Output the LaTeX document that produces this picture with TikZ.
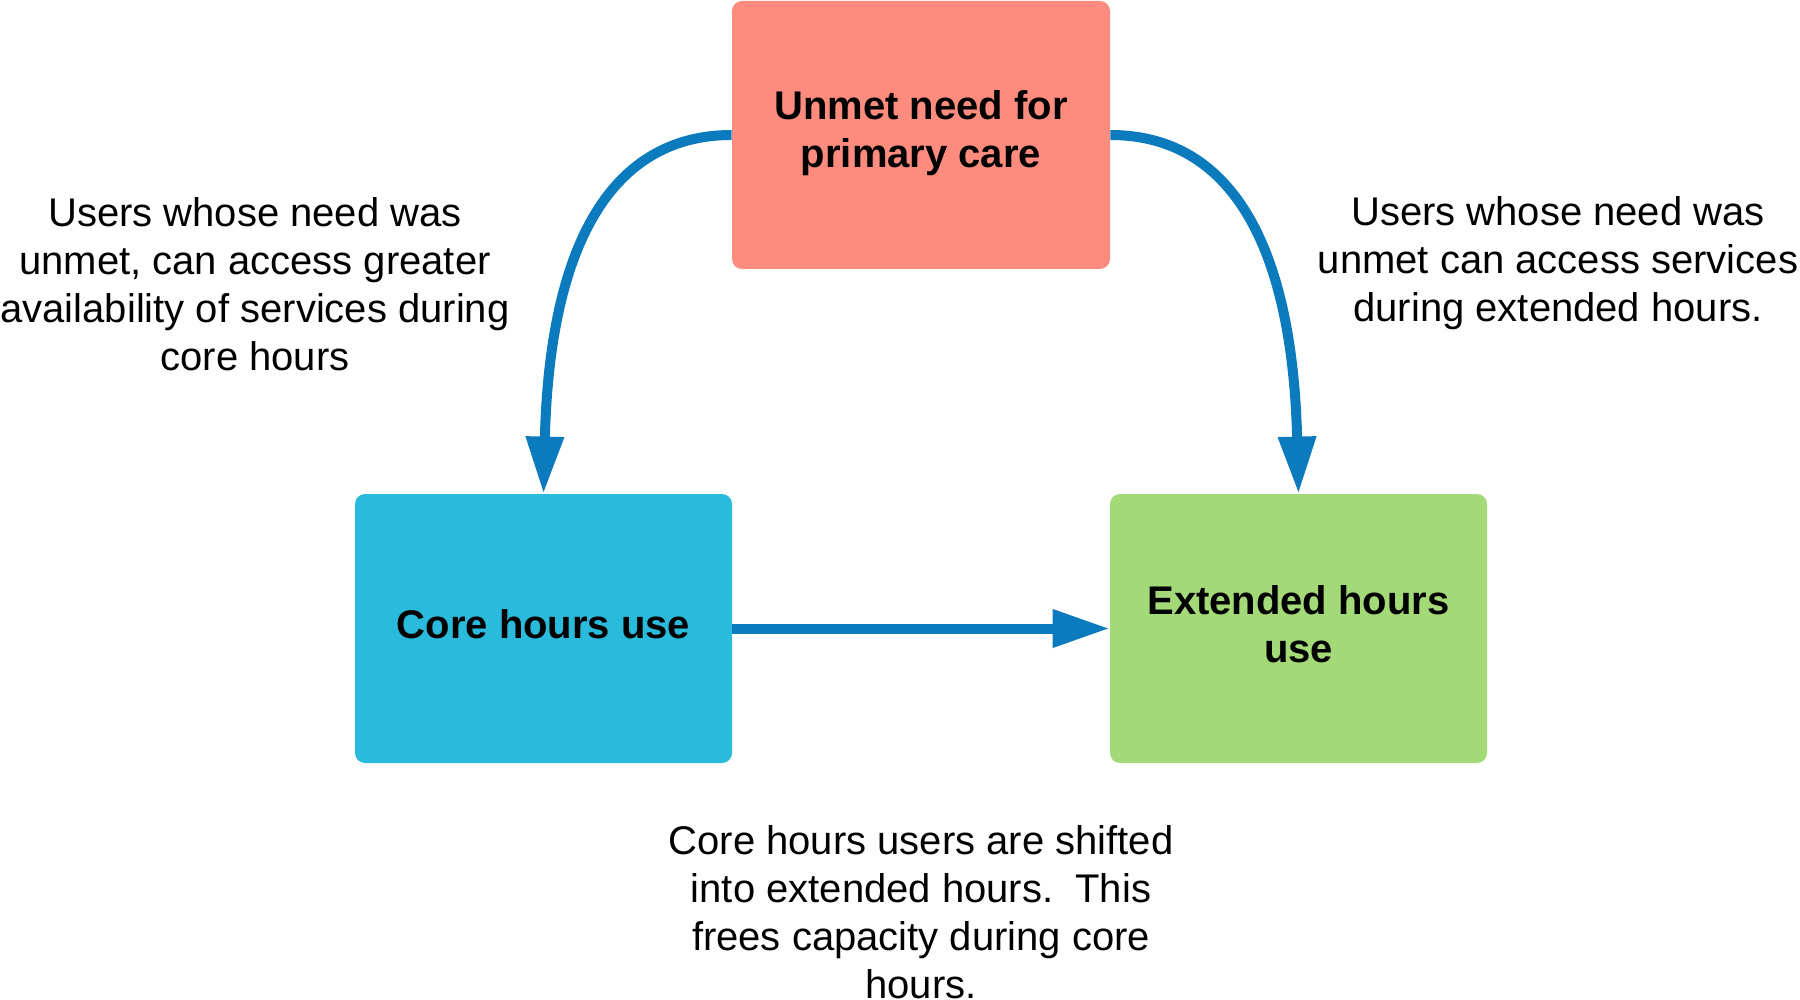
\documentclass[tikz,border=0pt]{standalone}
\usepackage{fontspec}
\setmainfont{Liberation Sans}
\usetikzlibrary{arrows.meta}
\definecolor{salmon}{HTML}{FE8C7E}
\definecolor{cyanbox}{HTML}{2ABBDC}
\definecolor{greenbox}{HTML}{A3D977}
\definecolor{arrblue}{HTML}{0B7BBD}
\tikzset{
  box/.style={rounded corners=5pt, inner sep=0pt, align=center,
    font=\fontsize{20}{24}\selectfont\bfseries},
  lbl/.style={inner sep=0pt, align=center, font=\fontsize{20}{24}\selectfont},
  arr/.style={draw=arrblue, line width=5pt, -{Triangle[length=28.5pt,width=18pt]}}
}
\begin{document}
\begin{tikzpicture}[x=0.5pt,y=-0.5pt]
\useasboundingbox (0,0) rectangle (1800,1000);
\node[box, fill=salmon, minimum width=189pt, minimum height=134pt] (top) at (921,135) {};
\node[box] (toptxt) at (921,133) {Unmet need for\\primary care};
\node[box, fill=cyanbox, minimum width=188.5pt, minimum height=134.5pt] (core) at (543.5,628.5) {};
\node[box] (coretxt) at (543.5,624) {Core hours use};
\node[box, fill=greenbox, minimum width=188.5pt, minimum height=134.5pt] (ext) at (1298.5,628.5) {};
\node[box] (exttxt) at (1298.5,624) {Extended hours\\use};
\node[lbl] (l1) at (255,284) {Users whose need was\\unmet, can access greater\\availability of services during\\core hours};
\node[lbl] (l2) at (1558,263) {Users whose need was\\unmet can access services\\during extended hours.};
\node[lbl] (l3) at (921,912) {Core hours users are shifted\\into extended hours.\ \ This\\frees capacity during core\\hours.};
\draw[arr] (top.west) .. controls (620,135) and (550,230) .. (core.north);
\draw[arr] (top.east) .. controls (1222,135) and (1292,230) .. (ext.north);
\draw[arr] (core.east) -- (ext.west);
\end{tikzpicture}
\end{document}
